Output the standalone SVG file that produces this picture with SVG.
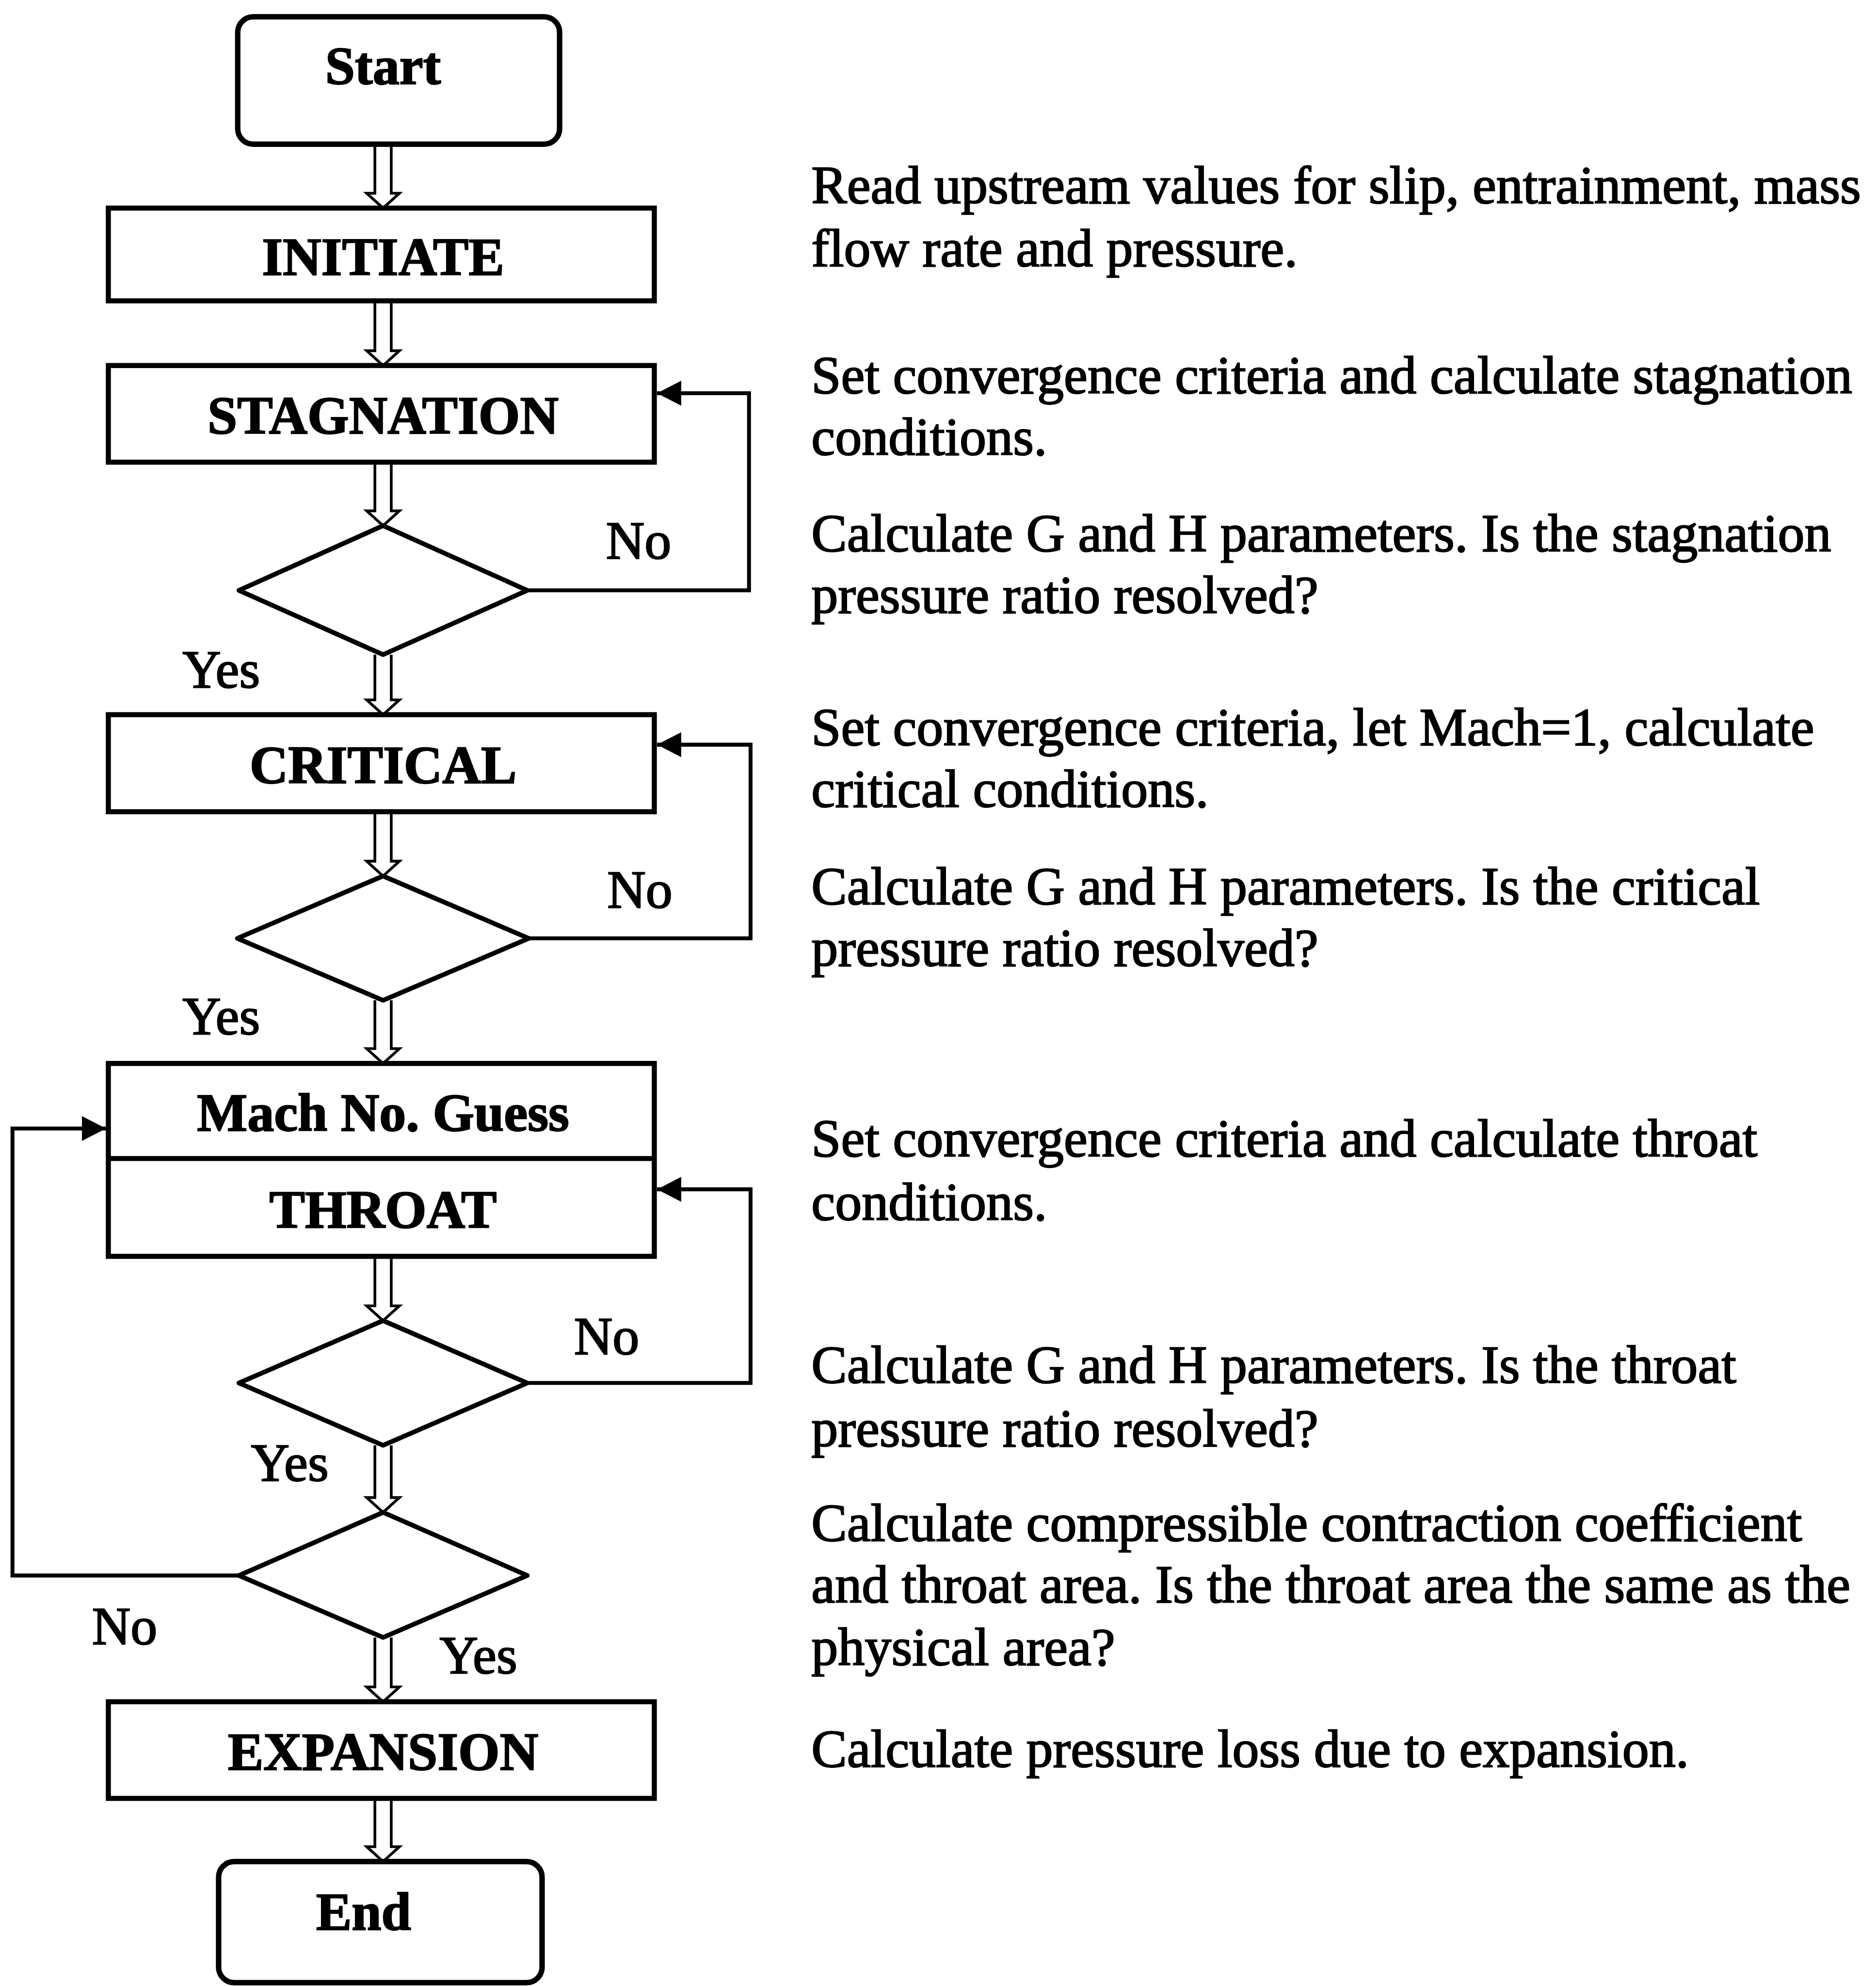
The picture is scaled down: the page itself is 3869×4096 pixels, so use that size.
<svg xmlns="http://www.w3.org/2000/svg" width="3869" height="4096" viewBox="0 0 3869 4096">
  <style>
    .term { fill: #fff; stroke: #000; stroke-width: 14; }
    .box { fill: #fff; stroke: #000; stroke-width: 13; }
    .dec { fill: #fff; stroke: #000; stroke-width: 12; stroke-linejoin: round; }
    .flow { fill: #fff; stroke: #000; stroke-width: 7; stroke-linejoin: miter; }
    .loop { fill: none; stroke: #000; stroke-width: 10; marker-end: url(#head); }
    .lbl { font-family: "Liberation Serif", "Times New Roman", serif; font-size: 137px; font-weight: bold; text-anchor: middle; fill: #000; stroke: #000; stroke-width: 3; }
    .ans { font-family: "Liberation Serif", "Times New Roman", serif; font-size: 137px; fill: #000; stroke: #000; stroke-width: 3; }
    .note { font-family: "Liberation Serif", "Times New Roman", serif; font-size: 137px; fill: #000; stroke: #000; stroke-width: 3; }
  </style>
  <defs>
    <marker id="head" viewBox="0 -32 62 64" refX="62" refY="0" markerWidth="62" markerHeight="64" markerUnits="userSpaceOnUse" orient="auto">
      <path d="M0,-32 L62,0 L0,32 Z" fill="#000"/>
    </marker>
  </defs>
  <rect width="3869" height="4096" fill="#fff"/>
  <g transform="scale(0.8037)">
    <!-- connectors: hollow flow arrows down the main column, and the loop-back lines -->
    <g id="connectors">
      <path class="flow" d="M962,370 V496 H941 L983,534 L1025,496 H1004 V370"/>
      <path class="flow" d="M962,772 V900 H941 L983,938 L1025,900 H1004 V772"/>
      <path class="flow" d="M962,1186 V1311 H941 L983,1349 L1025,1311 H1004 V1186"/>
      <path class="flow" d="M962,1680 V1796 H941 L983,1834 L1025,1796 H1004 V1680"/>
      <path class="flow" d="M962,2083 V2210 H941 L983,2248 L1025,2210 H1004 V2083"/>
      <path class="flow" d="M962,2567 V2691 H941 L983,2729 L1025,2691 H1004 V2567"/>
      <path class="flow" d="M962,3224 V3351 H941 L983,3389 L1025,3351 H1004 V3224"/>
      <path class="flow" d="M962,3709 V3843 H941 L983,3881 L1025,3843 H1004 V3709"/>
      <path class="flow" d="M962,4202 V4329 H941 L983,4367 L1025,4329 H1004 V4202"/>
      <path class="flow" d="M962,4615 V4739 H941 L983,4777 L1025,4739 H1004 V4615"/>

      <path class="loop" d="M1353,1515 H1922 V1009 H1686"/>
      <path class="loop" d="M1357,2408 H1926 V1911 H1686"/>
      <path class="loop" d="M1353,3549 H1926 V3052 H1686"/>
      <path class="loop" d="M613,4043 H32 V2896 H272"/>
    </g>

    <g id="start">
      <rect class="term" x="610" y="43" width="826" height="327" rx="40"/>
      <text class="lbl" x="983" y="215">Start</text>
    </g>
    <g id="initiate">
      <rect class="box" x="278" y="534" width="1401" height="238"/>
      <text class="lbl" x="983" y="706">INITIATE</text>
    </g>
    <g id="stagnation">
      <rect class="box" x="278" y="938" width="1401" height="248"/>
      <text class="lbl" x="983" y="1112">STAGNATION</text>
    </g>
    <g id="stagnation-check">
      <polygon class="dec" points="983,1349 1353,1515 983,1680 613,1515"/>
    </g>
    <g id="critical">
      <rect class="box" x="278" y="1834" width="1401" height="249"/>
      <text class="lbl" x="983" y="2009">CRITICAL</text>
    </g>
    <g id="critical-check">
      <polygon class="dec" points="983,2248 1357,2408 983,2567 609,2408"/>
    </g>
    <g id="throat">
      <rect class="box" x="278" y="2729" width="1401" height="495"/>
      <line class="box" x1="278" y1="2973" x2="1679" y2="2973"/>
      <text class="lbl" x="983" y="2901">Mach No. Guess</text>
      <text class="lbl" x="983" y="3150">THROAT</text>
    </g>
    <g id="throat-check">
      <polygon class="dec" points="983,3389 1353,3549 983,3709 613,3549"/>
    </g>
    <g id="area-check">
      <polygon class="dec" points="983,3881 1353,4043 983,4202 613,4043"/>
    </g>
    <g id="expansion">
      <rect class="box" x="278" y="4367" width="1401" height="248"/>
      <text class="lbl" x="983" y="4542">EXPANSION</text>
    </g>
    <g id="end">
      <rect class="term" x="561" y="4777" width="830" height="311" rx="40"/>
      <text class="lbl" x="933" y="4952">End</text>
    </g>

    <!-- branch labels -->
    <g id="branch-labels">
      <text class="ans" x="1555" y="1433">No</text>
      <text class="ans" x="468" y="1764">Yes</text>
      <text class="ans" x="1558" y="2329">No</text>
      <text class="ans" x="468" y="2654">Yes</text>
      <text class="ans" x="1473" y="3475">No</text>
      <text class="ans" x="644" y="3800">Yes</text>
      <text class="ans" x="236" y="4219">No</text>
      <text class="ans" x="1128" y="4294">Yes</text>
    </g>

    <!-- step descriptions -->
    <g id="notes">
      <text class="note" x="2082" y="521">Read upstream values for slip, entrainment, mass</text>
      <text class="note" x="2082" y="683">flow rate and pressure.</text>
      <text class="note" x="2082" y="1009">Set convergence criteria and calculate stagnation</text>
      <text class="note" x="2082" y="1167">conditions.</text>
      <text class="note" x="2082" y="1415">Calculate G and H parameters. Is the stagnation</text>
      <text class="note" x="2082" y="1573">pressure ratio resolved?</text>
      <text class="note" x="2082" y="1912">Set convergence criteria, let Mach=1, calculate</text>
      <text class="note" x="2082" y="2071">critical conditions.</text>
      <text class="note" x="2082" y="2320">Calculate G and H parameters. Is the critical</text>
      <text class="note" x="2082" y="2479">pressure ratio resolved?</text>
      <text class="note" x="2082" y="2967">Set convergence criteria and calculate throat</text>
      <text class="note" x="2082" y="3130">conditions.</text>
      <text class="note" x="2082" y="3549">Calculate G and H parameters. Is the throat</text>
      <text class="note" x="2082" y="3712">pressure ratio resolved?</text>
      <text class="note" x="2082" y="3954">Calculate compressible contraction coefficient</text>
      <text class="note" x="2082" y="4112">and throat area. Is the throat area the same as the</text>
      <text class="note" x="2082" y="4273">physical area?</text>
      <text class="note" x="2082" y="4534">Calculate pressure loss due to expansion.</text>
    </g>
  </g>
</svg>
